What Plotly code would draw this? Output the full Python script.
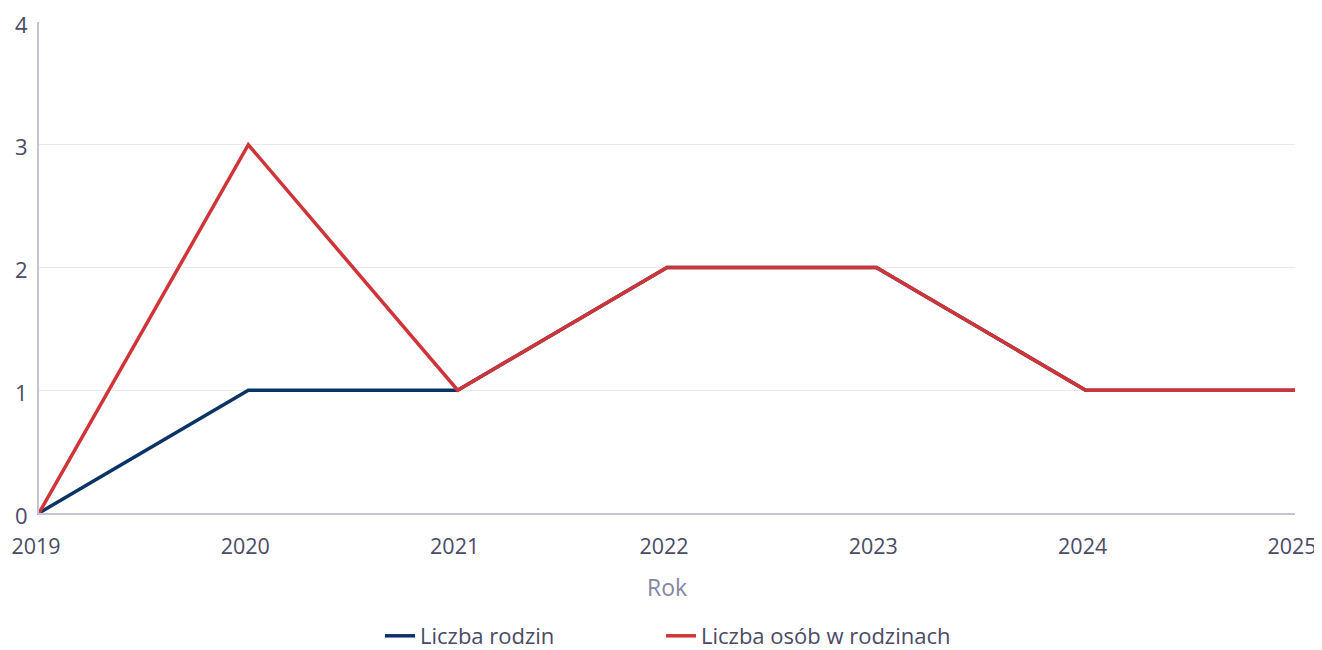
import plotly.graph_objects as go

years = [2019, 2020, 2021, 2022, 2023, 2024, 2025]
rodziny = [0, 1, 1, 2, 2, 1, 1]
osoby = [0, 3, 1, 2, 2, 1, 1]

font_family = "Open Sans"
text_color = "#4a4a66"
fig = go.Figure()
fig.add_trace(go.Scatter(x=years, y=rodziny, mode="lines", name="Liczba rodzin",
                         line=dict(color="#0b3466", width=3.5), legend="legend"))
fig.add_trace(go.Scatter(x=years, y=osoby, mode="lines", name="Liczba osób w rodzinach",
                         line=dict(color="#d13438", width=3.5), legend="legend2"))

W, H = 1314, 642
legend_common = dict(orientation="h", xref="container", yref="container",
                     xanchor="left", yanchor="middle", y=14 / H,
                     font=dict(size=22, color=text_color), itemwidth=30,
                     bgcolor="rgba(0,0,0,0)")

# page body has an 8px margin; figure is sized/offset to compensate
fig.update_layout(
    width=W, height=H,
    margin=dict(l=31, r=27, t=14, b=137),
    paper_bgcolor="white", plot_bgcolor="white",
    font=dict(family=font_family, size=22, color=text_color),
    showlegend=True,
    legend=dict(x=372 / W, **legend_common),
    legend2=dict(x=653 / W, **legend_common),
    xaxis=dict(range=[2019, 2025], tickvals=years, ticktext=[str(y) for y in years],
               showgrid=False, showline=True, linecolor="#c3c3d4", linewidth=2,
               ticks="outside", ticklen=13, tickcolor="rgba(0,0,0,0)", automargin=False,
               ticklabeloverflow="allow", ticklabelshift=-3, tickfont=dict(size=21.5),
               title=dict(text="Rok", font=dict(color="#8585a3", size=23), standoff=21),
               zeroline=False),
    yaxis=dict(range=[0, 4], tickvals=[0, 1, 2, 3, 4], showgrid=True, gridcolor="#e8e8ef",
               gridwidth=1, showline=True, linecolor="#c3c3d4", linewidth=2, automargin=False,
               ticks="outside", ticklen=5, tickcolor="rgba(0,0,0,0)", zeroline=False,
               ticklabeloverflow="allow", ticklabelshift=3),
)
fig.write_html("out.html")
